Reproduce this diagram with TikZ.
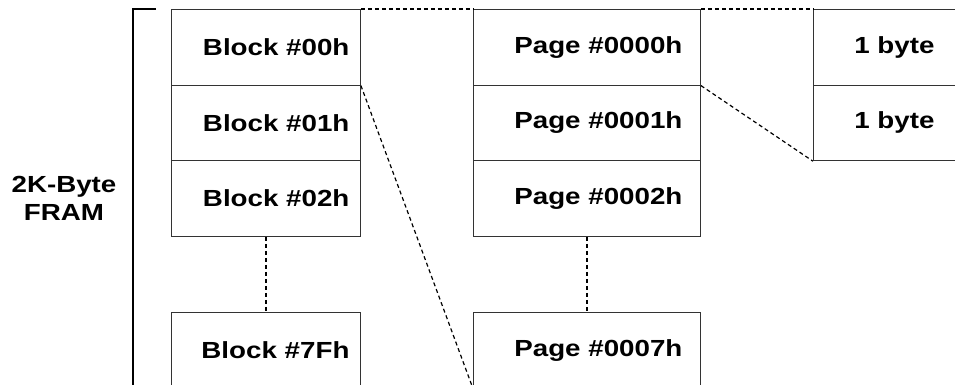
\documentclass[tikz,border=0pt]{standalone}
\usepackage{fontspec}
\setmainfont{Liberation Sans}[FakeStretch=1.19]
\begin{document}
\begin{tikzpicture}[x=1pt,y=-1pt,
  cell/.style={draw=black!80, line width=0.9pt, minimum height=75.67pt, inner ysep=0pt, anchor=north west,
    font=\fontsize{23.3}{28}\selectfont\bfseries},
  blk/.style={cell, text width=167pt, inner xsep=11pt, align=right},
  pg/.style={cell, text width=191pt, inner xsep=18pt, align=right},
  byt/.style={cell, minimum width=162pt, inner xsep=0pt, align=center},
  link/.style={dashed, dash pattern=on 4pt off 3pt, line width=1.2pt},
  lbl/.style={font=\fontsize{23.3}{28}\selectfont\bfseries, align=center}]
\useasboundingbox (0,0) rectangle (955,385);
\clip (0,0) rectangle (955,385);
% blocks
\node[blk] (b0) at (171,9) {Block \#00h};
\node[blk] (b1) at (171,84.67) {Block \#01h};
\node[blk] (b2) at (171,160.33) {Block \#02h};
\node[blk] (b7) at (171,312) {Block \#7Fh};
% pages
\node[pg] (p0) at (473,9) {Page \#0000h};
\node[pg] (p1) at (473,84.67) {Page \#0001h};
\node[pg] (p2) at (473,160.33) {Page \#0002h};
\node[pg] (p7) at (473,312) {Page \#0007h};
% bytes
\node[byt] (y0) at (813,9) {1 byte};
\node[byt] (y1) at (813,84.67) {1 byte};
% label and bracket
\node[lbl] (fram) at (64,198) {2K-Byte\\FRAM};
\coordinate (brt) at (156,9);
\coordinate (brc) at (133,9);
\coordinate (brb) at (133,400);
\draw[line width=1.5pt] (brt) -- (brc) -- (brb);
% connectors
\draw[link] (b2.south) -- (b7.north);
\draw[link] (p2.south) -- (p7.north);
\draw[link] (b0.north east) -- (p0.north west);
\draw[link] (b0.south east) -- (p7.south west);
\draw[link] (p0.north east) -- (y0.north west);
\draw[link] (p0.south east) -- (y1.south west);
\end{tikzpicture}
\end{document}
